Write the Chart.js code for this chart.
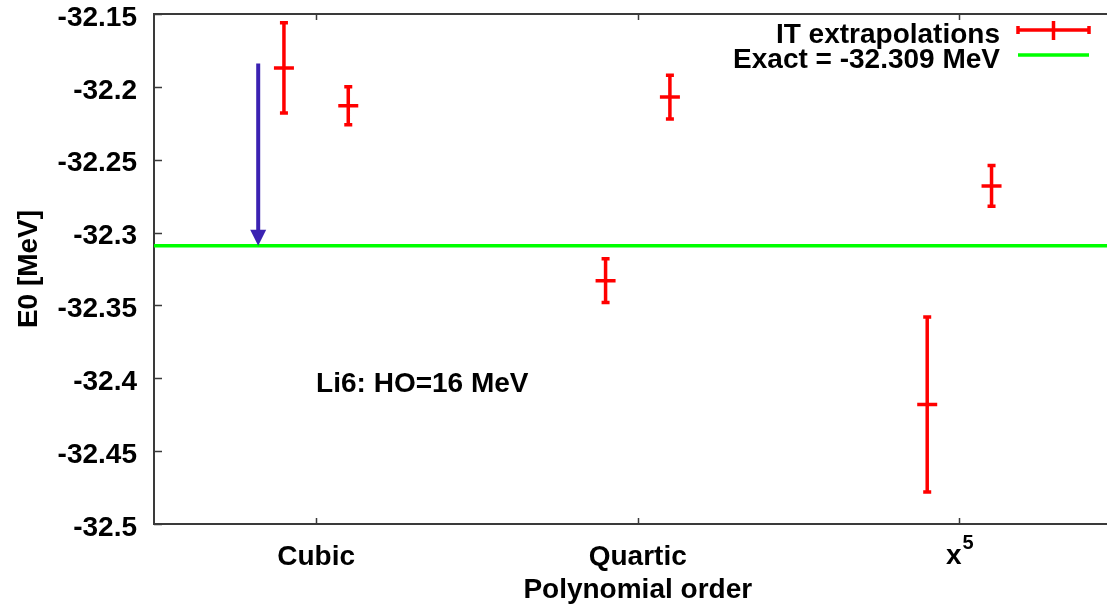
<!DOCTYPE html>
<html>
<head>
<meta charset="utf-8">
<script src="https://cdn.jsdelivr.net/npm/chart.js@4.4.1/dist/chart.umd.min.js"></script>
<style>
  html, body { margin: 0; padding: 0; background: #fff; overflow: hidden; }
  canvas { display: block; }
</style>
</head>
<body>
<canvas id="chart" width="1107" height="604"></canvas>
<script>
// polynomial orders on the x axis ('^' marks a superscript)
const categories = ['Cubic', 'Quartic', 'x^5'];
const categoryPos = [1, 2, 3];

// two IT extrapolations per order, sitting either side of the tick
const pointX = [0.9, 1.1, 1.9, 2.1, 2.9, 3.1];
const pointE = [-32.187, -32.213, -32.333, -32.207, -32.418, -32.268];
const pointErr = [0.031, 0.013, 0.015, 0.015, 0.060, 0.014];

const exactE = -32.309;
const yTicks = [-32.5, -32.45, -32.4, -32.35, -32.3, -32.25, -32.2, -32.15];

// arrow pointing down onto the exact line, and the note text
const arrowX = 0.82;
const arrowFrom = -32.184;
const noteX = 1.0;
const noteY = -32.404;

// the frame is cut off on the right, the exact line runs past the area
const X_MIN = 0.496, X_MAX = 3.417, X_LINE_END = 3.47;
const RED = '#ff0000';
const FRAME = '#3a3a3a';
const FAMILY = '"Liberation Sans", Arial, sans-serif';
const FONT = 'bold 28px ' + FAMILY;

Chart.defaults.font.family = FAMILY;
Chart.defaults.font.size = 28;
Chart.defaults.font.weight = 'bold';
Chart.defaults.color = '#000';

// gnuplot style box: top/left/bottom border with inward ticks
const frame = {
  id: 'frame',
  beforeDatasetsDraw(chart) {
    const { ctx, chartArea: a, scales: { x, y } } = chart;
    ctx.save();
    ctx.strokeStyle = FRAME;
    ctx.lineWidth = 2;
    ctx.beginPath();
    ctx.moveTo(chart.width, a.top);
    ctx.lineTo(a.left, a.top);
    ctx.lineTo(a.left, a.bottom);
    ctx.lineTo(chart.width, a.bottom);
    ctx.stroke();
    ctx.lineWidth = 1.5;
    ctx.beginPath();
    yTicks.forEach(v => {
      const py = Math.round(y.getPixelForValue(v)) + 0.5;
      ctx.moveTo(a.left, py);
      ctx.lineTo(a.left + 8, py);
    });
    categoryPos.forEach(v => {
      const px = Math.round(x.getPixelForValue(v)) + 0.5;
      ctx.moveTo(px, a.bottom);
      ctx.lineTo(px, a.bottom - 6);
      ctx.moveTo(px, a.top);
      ctx.lineTo(px, a.top + 6);
    });
    ctx.stroke();

    ctx.fillStyle = '#000';
    ctx.textBaseline = 'middle';

    // category labels with a superscript part drawn by hand
    categories.forEach((c, i) => {
      if (!c.includes('^')) return;
      const [base, sup] = c.split('^');
      const cx = x.getPixelForValue(categoryPos[i]);
      const ly = a.bottom + 32;
      ctx.font = FONT;
      const wb = ctx.measureText(base).width;
      ctx.font = 'bold 20px ' + FAMILY;
      const ws = ctx.measureText(sup).width;
      const left = cx - (wb + ws) / 2;
      ctx.textAlign = 'left';
      ctx.font = FONT;
      ctx.fillText(base, left, ly);
      ctx.font = 'bold 20px ' + FAMILY;
      ctx.fillText(sup, left + wb + 1, ly - 13);
    });

    // x axis title, centred under the middle order
    ctx.font = FONT;
    ctx.textAlign = 'center';
    ctx.fillText('Polynomial order', x.getPixelForValue(categoryPos[1]), a.bottom + 66);
    ctx.restore();
  }
};

const errorBars = {
  id: 'errorBars',
  afterDatasetsDraw(chart) {
    const { ctx, scales: { x, y } } = chart;
    ctx.save();
    ctx.strokeStyle = RED;
    ctx.lineWidth = 3.5;
    ctx.beginPath();
    pointX.forEach((v, i) => {
      const cx = x.getPixelForValue(v);
      const top = y.getPixelForValue(pointE[i] + pointErr[i]);
      const bot = y.getPixelForValue(pointE[i] - pointErr[i]);
      ctx.moveTo(cx, top);
      ctx.lineTo(cx, bot);
      ctx.moveTo(cx - 4, top);
      ctx.lineTo(cx + 4, top);
      ctx.moveTo(cx - 4, bot);
      ctx.lineTo(cx + 4, bot);
    });
    ctx.stroke();

    // arrow onto the exact value
    const ax = x.getPixelForValue(arrowX);
    const ay0 = y.getPixelForValue(arrowFrom);
    const ay1 = y.getPixelForValue(exactE);
    ctx.strokeStyle = '#3b22b2';
    ctx.fillStyle = '#3b22b2';
    ctx.lineWidth = 4;
    ctx.beginPath();
    ctx.moveTo(ax, ay0);
    ctx.lineTo(ax, ay1 - 14);
    ctx.stroke();
    ctx.beginPath();
    ctx.moveTo(ax, ay1);
    ctx.lineTo(ax - 8, ay1 - 16);
    ctx.lineTo(ax + 8, ay1 - 16);
    ctx.closePath();
    ctx.fill();

    // note
    ctx.font = FONT;
    ctx.fillStyle = '#000';
    ctx.textAlign = 'left';
    ctx.textBaseline = 'middle';
    ctx.fillText('Li6: HO=16 MeV', x.getPixelForValue(noteX), y.getPixelForValue(noteY));
    ctx.restore();
  }
};

// key in the top right corner: text first, sample after it
const key = {
  id: 'key',
  afterDraw(chart) {
    const { ctx } = chart;
    const textRight = 1000, s0 = 1018, s1 = 1089;
    const rows = [
      { label: 'IT extrapolations', y: 30 },
      { label: `Exact = ${exactE} MeV`, y: 55 }
    ];
    ctx.save();
    ctx.font = FONT;
    ctx.fillStyle = '#000';
    ctx.textAlign = 'right';
    ctx.textBaseline = 'middle';
    rows.forEach(r => ctx.fillText(r.label, textRight, r.y + 5));

    let ly = rows[0].y;
    ctx.strokeStyle = RED;
    ctx.lineWidth = 3.5;
    ctx.beginPath();
    ctx.moveTo(s0, ly); ctx.lineTo(s1, ly);
    ctx.moveTo(s0, ly - 4); ctx.lineTo(s0, ly + 4);
    ctx.moveTo(s1, ly - 4); ctx.lineTo(s1, ly + 4);
    const mid = (s0 + s1) / 2;
    ctx.moveTo(mid, ly - 9); ctx.lineTo(mid, ly + 10);
    ctx.stroke();

    ly = rows[1].y;
    ctx.strokeStyle = '#00ff00';
    ctx.beginPath();
    ctx.moveTo(s0, ly); ctx.lineTo(s1, ly);
    ctx.stroke();
    ctx.restore();
  }
};

new Chart(document.getElementById('chart'), {
  type: 'scatter',
  data: {
    datasets: [
      {
        label: 'IT extrapolations',
        data: pointX.map((v, i) => ({ x: v, y: pointE[i] })),
        pointStyle: 'line',
        pointRadius: 10,
        pointBorderWidth: 3.5,
        borderColor: RED,
        backgroundColor: RED,
        showLine: false
      },
      {
        label: 'Exact',
        data: [{ x: X_MIN, y: exactE }, { x: X_LINE_END, y: exactE }],
        showLine: true,
        clip: false,
        borderColor: '#00ff00',
        borderWidth: 3.5,
        pointRadius: 0
      }
    ]
  },
  options: {
    responsive: false,
    animation: false,
    devicePixelRatio: 1,
    layout: { padding: { top: 14, right: 0, left: 0, bottom: 0 } },
    plugins: {
      legend: { display: false },
      tooltip: { enabled: false }
    },
    scales: {
      x: {
        type: 'linear',
        min: X_MIN,
        max: X_MAX,
        grid: { display: false },
        border: { display: false },
        afterBuildTicks: s => { s.ticks = categoryPos.map(v => ({ value: v })); },
        afterFit: s => {
          s.height = 80;
          s.paddingLeft = 0;
          s.paddingRight = 0;
        },
        ticks: {
          padding: 8,
          maxRotation: 0,
          callback: v => {
            const c = categories[categoryPos.indexOf(v)];
            return c.includes('^') ? '' : c;
          }
        }
      },
      y: {
        min: -32.5,
        max: -32.15,
        grid: { display: false },
        border: { display: false },
        afterBuildTicks: s => { s.ticks = yTicks.map(v => ({ value: v })); },
        afterFit: s => {
          s.width = 154;
          s.paddingTop = 0;
          s.paddingBottom = 0;
        },
        ticks: {
          padding: 9,
          labelOffset: 4,
          callback: v => String(Number(v.toFixed(2)))
        },
        title: {
          display: true,
          text: 'E0 [MeV]',
          padding: { top: 12, bottom: 0 }
        }
      }
    }
  },
  plugins: [frame, errorBars, key]
});
</script>
</body>
</html>
